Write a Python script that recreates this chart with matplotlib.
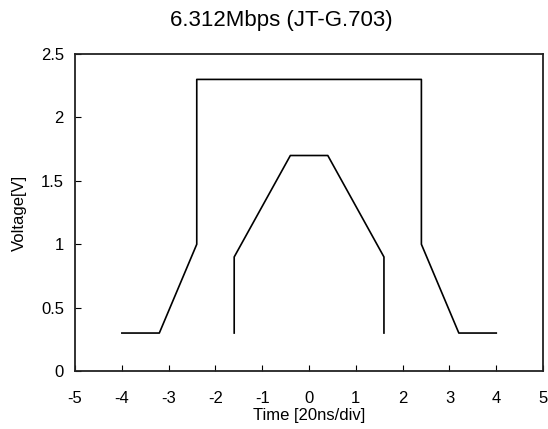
import matplotlib
matplotlib.use("Agg")
import matplotlib.pyplot as plt

plt.rcParams['font.family'] = ['Liberation Sans', 'DejaVu Sans']

# upper mask (outer)
outer_t = [-4, -3.2, -2.4, -2.4, 2.4, 2.4, 3.2, 4]
outer_v = [0.3, 0.3, 1.0, 2.3, 2.3, 1.0, 0.3, 0.3]

# lower mask (inner)
inner_t = [-1.6, -1.6, -0.4, 0.4, 1.6, 1.6]
inner_v = [0.3, 0.9, 1.7, 1.7, 0.9, 0.3]

x_ticks = [-5, -4, -3, -2, -1, 0, 1, 2, 3, 4, 5]
y_ticks = [0, 0.5, 1, 1.5, 2, 2.5]
y_labels = ['0', '0.5', '1', '1.5', '2', '2.5']

fig = plt.figure(figsize=(5.48, 4.29), dpi=100)
ax = fig.add_axes([0.137, 0.135, 0.854, 0.739])

ax.plot(outer_t, outer_v, color='black', linewidth=1.2)
ax.plot(inner_t, inner_v, color='black', linewidth=1.2)

ax.set_xlim(-5, 5)
ax.set_ylim(0, 2.5)
ax.set_xticks(x_ticks)
ax.set_xticklabels([str(t) for t in x_ticks])
ax.set_yticks(y_ticks)
ax.set_yticklabels(y_labels)
ax.tick_params(axis='both', direction='in', length=4, width=0.8,
               labelsize=12, colors='black')
ax.tick_params(axis='x', pad=14)
ax.tick_params(axis='y', pad=8)

for s in ax.spines.values():
    s.set_linewidth(1.3)
    s.set_color('#222222')

ax.set_xlabel('Time [20ns/div]', fontsize=12, labelpad=2)
ax.set_ylabel('Voltage[V]', fontsize=12, labelpad=10)

# title sits a little left of the axes centre, as in the original
fig.text(0.513, 0.953, '6.312Mbps (JT-G.703)', fontsize=16,
         ha='center', va='center')

fig.savefig('out.png', dpi=100)
